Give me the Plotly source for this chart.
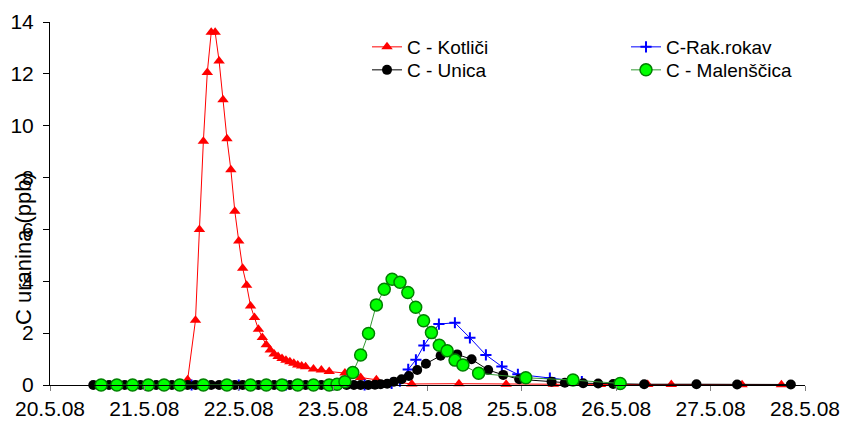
import plotly.graph_objects as go

# ---------------- data ----------------
kot_t = ["2008-05-20 13:00", "2008-05-20 17:00", "2008-05-20 21:00", "2008-05-21 01:00",
         "2008-05-21 05:00", "2008-05-21 09:00",
         "2008-05-21 11:00", "2008-05-21 13:00", "2008-05-21 14:00", "2008-05-21 15:00",
         "2008-05-21 16:00", "2008-05-21 17:00", "2008-05-21 18:00", "2008-05-21 19:00",
         "2008-05-21 20:00", "2008-05-21 21:00", "2008-05-21 22:00", "2008-05-21 23:00",
         "2008-05-22 00:00", "2008-05-22 01:00", "2008-05-22 02:00", "2008-05-22 03:00",
         "2008-05-22 04:00", "2008-05-22 05:00", "2008-05-22 06:00", "2008-05-22 07:00",
         "2008-05-22 08:00", "2008-05-22 09:00", "2008-05-22 10:00", "2008-05-22 11:00",
         "2008-05-22 12:00", "2008-05-22 13:00", "2008-05-22 14:00", "2008-05-22 15:00",
         "2008-05-22 16:00", "2008-05-22 17:00", "2008-05-22 19:00", "2008-05-22 21:00",
         "2008-05-22 23:00",
         "2008-05-23 03:00", "2008-05-23 07:00", "2008-05-23 11:00", "2008-05-23 20:00",
         "2008-05-24 08:00", "2008-05-24 20:00", "2008-05-25 08:00", "2008-05-25 20:00",
         "2008-05-26 08:00", "2008-05-26 14:00", "2008-05-27 08:00", "2008-05-27 18:00"]
kot_v = [0, 0, 0, 0, 0, 0,
         0.2, 2.5, 6.0, 9.4, 12.05, 13.6, 13.6, 12.5, 11.0, 9.5, 8.3, 6.7,
         5.55, 4.5, 3.85, 3.05, 2.6, 2.15, 1.83, 1.55, 1.35, 1.2, 1.1, 1.02,
         0.95, 0.9, 0.84, 0.77, 0.73, 0.7, 0.62, 0.58, 0.52,
         0.46, 0.29, 0.2, 0.04,
         0.05, 0.03, 0.03, 0.02, 0.02, 0.02, 0.01, 0.01]

rak_t = ["2008-05-21 12:00", "2008-05-22 00:00", "2008-05-22 12:00", "2008-05-23 00:00",
         "2008-05-23 08:00", "2008-05-23 14:52", "2008-05-23 16:59", "2008-05-23 19:06",
         "2008-05-23 21:03", "2008-05-23 23:05", "2008-05-24 02:54", "2008-05-24 06:58",
         "2008-05-24 10:47", "2008-05-24 14:51", "2008-05-24 18:55", "2008-05-24 22:59",
         "2008-05-25 07:07", "2008-05-25 15:15"]
rak_v = [0, 0, 0, 0, 0, 0.06, 0.15, 0.6, 0.97, 1.52, 2.35, 2.4, 1.82, 1.16, 0.71, 0.41,
         0.27, 0.13]

uni_t = ["2008-05-20 11:00", "2008-05-20 13:00", "2008-05-20 15:00", "2008-05-20 17:00",
         "2008-05-20 19:00", "2008-05-20 21:00", "2008-05-20 23:00",
         "2008-05-21 01:00", "2008-05-21 03:00", "2008-05-21 05:00", "2008-05-21 07:00",
         "2008-05-21 09:00", "2008-05-21 11:00", "2008-05-21 13:00", "2008-05-21 15:00",
         "2008-05-21 17:00", "2008-05-21 19:00", "2008-05-21 21:00", "2008-05-21 23:00",
         "2008-05-22 01:00", "2008-05-22 03:00", "2008-05-22 05:00", "2008-05-22 07:00",
         "2008-05-22 09:00", "2008-05-22 11:00", "2008-05-22 13:00", "2008-05-22 15:00",
         "2008-05-22 17:00", "2008-05-22 19:00", "2008-05-22 21:00", "2008-05-22 23:00",
         "2008-05-23 01:00",
         "2008-05-23 03:26", "2008-05-23 05:17", "2008-05-23 06:59", "2008-05-23 08:55",
         "2008-05-23 10:38", "2008-05-23 12:05", "2008-05-23 13:45", "2008-05-23 15:27",
         "2008-05-23 17:25", "2008-05-23 19:16", "2008-05-23 21:23", "2008-05-23 23:36",
         "2008-05-24 03:20", "2008-05-24 07:33", "2008-05-24 11:13", "2008-05-24 15:26",
         "2008-05-24 19:15", "2008-05-24 23:19", "2008-05-25 07:33", "2008-05-25 10:56",
         "2008-05-25 15:35", "2008-05-25 19:24", "2008-05-25 23:13", "2008-05-26 07:06",
         "2008-05-26 20:24", "2008-05-27 06:44", "2008-05-27 20:24"]
uni_v = [0, 0, 0, 0, 0, 0, 0,
         0, 0, 0, 0, 0, 0, 0, 0, 0, 0, 0, 0,
         0, 0, 0, 0, 0, 0, 0, 0, 0, 0, 0, 0,
         0,
         0, 0, 0, 0, 0.01, 0.03, 0.05, 0.13, 0.22, 0.35, 0.58, 0.82,
         1.13, 1.18, 0.99, 0.58, 0.39, 0.22, 0.13, 0.09, 0.07, 0.06, 0.04, 0.03,
         0.03, 0.02, 0.02]

mal_t = ["2008-05-20 13:00", "2008-05-20 17:00", "2008-05-20 21:00", "2008-05-21 01:00",
         "2008-05-21 05:00", "2008-05-21 09:00", "2008-05-21 15:00", "2008-05-21 21:00",
         "2008-05-22 03:00", "2008-05-22 07:00", "2008-05-22 11:00", "2008-05-22 15:00",
         "2008-05-22 19:00", "2008-05-22 23:00",
         "2008-05-23 01:00", "2008-05-23 03:00", "2008-05-23 05:00", "2008-05-23 07:00",
         "2008-05-23 09:00", "2008-05-23 11:00", "2008-05-23 13:00", "2008-05-23 15:00",
         "2008-05-23 17:00", "2008-05-23 19:00", "2008-05-23 21:00", "2008-05-23 23:00",
         "2008-05-24 01:00", "2008-05-24 03:00", "2008-05-24 05:00", "2008-05-24 07:00",
         "2008-05-24 09:00", "2008-05-24 13:00", "2008-05-25 01:00", "2008-05-25 13:00",
         "2008-05-26 01:00"]
mal_v = [0, 0, 0, 0, 0, 0, 0, 0, 0, 0, 0, 0, 0, 0,
         0.03, 0.13, 0.48, 1.16, 1.99, 3.09, 3.69, 4.08, 3.96, 3.57, 3.0, 2.48,
         2.02, 1.53, 1.32, 0.96, 0.77, 0.45, 0.28, 0.19, 0.06]

y_ticks = [0, 2, 4, 6, 8, 10, 12, 14]

FONT = "Liberation Sans, Arial, sans-serif"

# plot area in pixels (used only for paper-coordinate placement of legend/title)
L, R, T, B, W, H = 50, 39, 22, 38, 844, 423
PW, PH = W - L - R, H - T - B


def px_x(p):
    return (p - L) / PW


def px_y(p):
    return (H - B - p) / PH


fig = go.Figure()

fig.add_trace(go.Scatter(
    x=kot_t, y=kot_v, name="C - Kotliči", mode="lines+markers", cliponaxis=False,
    legend="legend",
    line=dict(color="#FF0000", width=1),
    marker=dict(symbol="triangle-up", size=10, color="#FF0000", line=dict(width=0))))
fig.add_trace(go.Scatter(
    x=rak_t, y=rak_v, name="C-Rak.rokav", mode="lines+markers", cliponaxis=False,
    legend="legend2",
    line=dict(color="#0000FF", width=1),
    marker=dict(symbol="cross-thin", size=8, color="#0000FF",
                line=dict(color="#0000FF", width=2))))
fig.add_trace(go.Scatter(
    x=uni_t, y=uni_v, name="C - Unica", mode="lines+markers", cliponaxis=False,
    legend="legend3",
    line=dict(color="#000000", width=1),
    marker=dict(symbol="circle", size=10, color="#000000", line=dict(width=0))))
fig.add_trace(go.Scatter(
    x=mal_t, y=mal_v, name="C - Malenščica", mode="lines+markers", cliponaxis=False,
    legend="legend4",
    line=dict(color="#339933", width=1),
    marker=dict(symbol="circle", size=12, color="#00FF00",
                line=dict(color="#008000", width=1.5))))

leg_font = dict(family=FONT, size=19, color="black")
leg_common = dict(xanchor="left", yanchor="middle", font=leg_font,
                  bgcolor="rgba(0,0,0,0)", borderwidth=0)

fig.update_layout(
    width=W, height=H,
    margin=dict(l=L, r=R, t=T, b=B, autoexpand=False),
    paper_bgcolor="white", plot_bgcolor="white",
    font=dict(family=FONT, size=21, color="black"),
    showlegend=True,
    legend=dict(x=px_x(367), y=px_y(47), **leg_common),
    legend2=dict(x=px_x(626), y=px_y(47), **leg_common),
    legend3=dict(x=px_x(367), y=px_y(70), **leg_common),
    legend4=dict(x=px_x(626), y=px_y(70), **leg_common),
    xaxis=dict(
        type="date", range=["2008-05-20", "2008-05-28"], dtick=86400000,
        tick0="2008-05-20", tickformat="%-d.%-m.%y", automargin=False,
        showgrid=False, zeroline=False, showline=True, linecolor="black", linewidth=1,
        ticks="outside", ticklen=5, tickcolor="#808080", tickwidth=1,
        tickfont=dict(family=FONT, size=21, color="black")),
    yaxis=dict(
        range=[0, 14], tickvals=y_ticks, showgrid=False, zeroline=False, automargin=False,
        showline=True, linecolor="black", linewidth=1,
        ticks="outside", ticklen=6, tickcolor="black", tickwidth=1,
        ticklabelstandoff=5,
        tickfont=dict(family=FONT, size=21, color="black")),
)

fig.add_annotation(
    text="C uranina (ppb)", xref="paper", yref="paper",
    x=px_x(23), y=px_y(249), xanchor="center", yanchor="middle",
    textangle=-90, showarrow=False, font=dict(family=FONT, size=22, color="black"))

fig.write_html("out.html")
